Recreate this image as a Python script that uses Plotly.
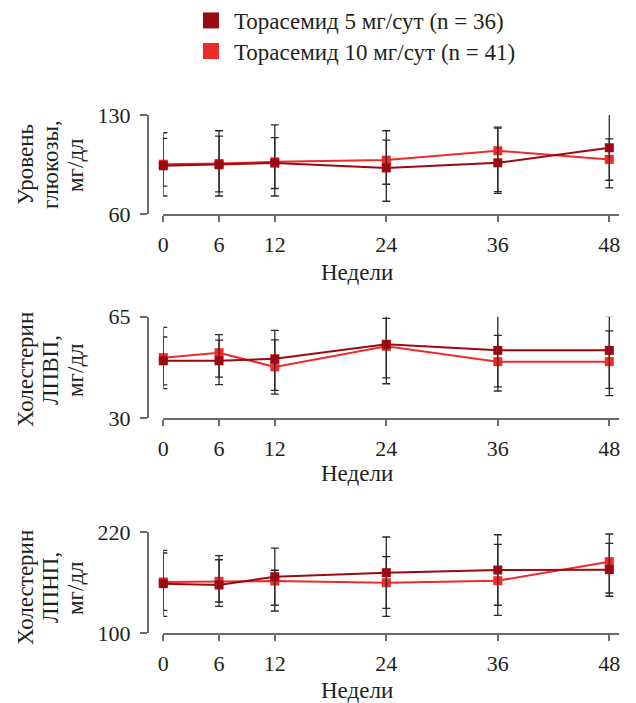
import plotly.graph_objects as go

W, H = 636, 703

weeks = [0, 6, 12, 24, 36, 48]
series_names = ["Торасемид 5 мг/сут (n = 36)", "Торасемид 10 мг/сут (n = 41)"]
series_colors = ["#9b0a12", "#ee2a2a"]

# Glucose, mg/dl
glu_5 = [94.2, 94.9, 96.1, 92.7, 96.3, 106.9]
glu_5_hi = [117.5, 118.9, 123.1, 112.3, 120.8, 133.3]
glu_5_lo = [72.9, 72.9, 72.9, 69.2, 74.8, 84.0]
glu_10 = [95.3, 95.8, 97.0, 98.2, 104.8, 98.7]
glu_10_hi = [113.5, 115.1, 114.0, 118.9, 121.5, 113.2]
glu_10_lo = [79.8, 75.8, 78.2, 81.2, 76.0, 78.6]

# HDL cholesterol, mg/dl
hdl_5 = [49.8, 49.8, 50.5, 55.5, 53.4, 53.4]
hdl_5_hi = [61.3, 56.9, 60.3, 66.4, 65.8, 65.1]
hdl_5_lo = [40.2, 41.6, 39.6, 43.9, 40.8, 40.3]
hdl_10 = [50.9, 52.6, 47.7, 54.8, 49.5, 49.5]
hdl_10_hi = [58.0, 58.8, 57.0, 64.4, 58.6, 60.1]
hdl_10_lo = [41.5, 44.2, 38.3, 41.9, 39.4, 37.8]

# LDL cholesterol, mg/dl
ldl_5 = [159.0, 157.4, 167.2, 172.0, 175.2, 175.6]
ldl_5_hi = [198.6, 187.4, 201.3, 214.4, 217.1, 206.9]
ldl_5_lo = [120.2, 132.1, 133.3, 129.7, 133.3, 144.0]
ldl_10 = [161.0, 161.8, 162.1, 160.1, 162.5, 185.1]
ldl_10_hi = [195.4, 192.2, 174.9, 191.0, 205.7, 218.0]
ldl_10_lo = [127.3, 137.2, 126.5, 120.2, 121.4, 147.9]

y_titles = [["Уровень", "глюкозы,", "мг/дл"],
            ["Холестерин", "ЛПВП,", "мг/дл"],
            ["Холестерин", "ЛПНП,", "мг/дл"]]
y_ranges = [[60, 130], [30, 65], [100, 220]]
x_title = "Недели"

panels = [
    ((glu_5, glu_5_hi, glu_5_lo), (glu_10, glu_10_hi, glu_10_lo)),
    ((hdl_5, hdl_5_hi, hdl_5_lo), (hdl_10, hdl_10_hi, hdl_10_lo)),
    ((ldl_5, ldl_5_hi, ldl_5_lo), (ldl_10, ldl_10_hi, ldl_10_lo)),
]

# layout geometry (pixels)
panel_px = [(115, 214.3), (316.7, 418.3), (532.3, 633.3)]
xtitle_px = [272, 473, 690]
ytitle_cy = [165, 370, 588]
ytitle_x = [25, 50, 75]
legend_cy = [20.5, 51.0]
x_left, x_right, x48 = 163.3, 619.0, 609.3
yaxis_x = 147.7

FONT = "Liberation Serif"
AX = "#6a6a6a"
TXT = "#231f20"

fig = go.Figure()

for i, panel in enumerate(panels):
    xa = "x" if i == 0 else f"x{i+1}"
    ya = "y" if i == 0 else f"y{i+1}"
    for k in [1, 0]:
        vals, hi, lo = panel[k]
        fig.add_trace(go.Scatter(
            x=weeks, y=vals, mode="lines+markers",
            line=dict(color=series_colors[k], width=2),
            marker=dict(symbol="square", size=9, color=series_colors[k]),
            error_y=dict(type="data", symmetric=False,
                         array=[h - v for h, v in zip(hi, vals)],
                         arrayminus=[v - l for v, l in zip(vals, lo)],
                         color="#2a2a2a", thickness=1.3, width=4),
            cliponaxis=False, showlegend=False, xaxis=xa, yaxis=ya,
        ))

legend_ids = ["legend", "legend2"]
for k in range(2):
    fig.add_trace(go.Scatter(
        x=[None], y=[None], mode="markers", name=series_names[k],
        marker=dict(symbol="square", size=16, color=series_colors[k]),
        showlegend=True, legend=legend_ids[k],
    ))

layout = dict(
    width=W, height=H,
    margin=dict(l=0, r=0, t=0, b=0, pad=0, autoexpand=False),
    paper_bgcolor="white", plot_bgcolor="white",
    font=dict(family=FONT, size=22, color=TXT),
    annotations=[],
)
for k in range(2):
    layout[legend_ids[k]] = dict(
        x=188 / W, y=1 - legend_cy[k] / H, xanchor="left", yanchor="middle",
        font=dict(family=FONT, size=23, color=TXT),
        bgcolor="rgba(0,0,0,0)", itemwidth=36,
    )

xdom = [x_left / W, x_right / W]
xrange_ = [0, 48 * (x_right - x_left) / (x48 - x_left)]

for i in range(3):
    sx = "" if i == 0 else str(i + 1)
    top, bot = panel_px[i]
    layout["xaxis" + sx] = dict(
        domain=xdom, range=xrange_, anchor="y" + sx, automargin=False,
        showline=True, linecolor=AX, linewidth=1.5,
        ticks="outside", ticklen=6, tickwidth=1.5, tickcolor=AX,
        ticklabelstandoff=4,
        tickvals=weeks, ticktext=[str(w) for w in weeks],
        tickfont=dict(family=FONT, size=22, color=TXT),
        showgrid=False, zeroline=False, fixedrange=True,
    )
    layout["yaxis" + sx] = dict(
        domain=[1 - bot / H, 1 - top / H], range=y_ranges[i],
        anchor="free", position=yaxis_x / W, automargin=False,
        showline=True, linecolor=AX, linewidth=1.5,
        ticks="outside", ticklen=7, tickwidth=1.5, tickcolor=AX,
        ticklabelstandoff=5,
        tickvals=y_ranges[i], ticktext=[str(v) for v in y_ranges[i]],
        tickfont=dict(family=FONT, size=22, color=TXT),
        showgrid=False, zeroline=False, fixedrange=True,
    )
    layout["annotations"].append(dict(
        text=x_title, xref="paper", yref="paper",
        x=357 / W, y=1 - xtitle_px[i] / H, xanchor="center", yanchor="middle",
        showarrow=False, font=dict(family=FONT, size=23, color=TXT),
    ))
    for j, line in enumerate(y_titles[i]):
        layout["annotations"].append(dict(
            text=line, xref="paper", yref="paper",
            x=ytitle_x[j] / W, y=1 - ytitle_cy[i] / H,
            xanchor="center", yanchor="middle",
            textangle=-90, showarrow=False,
            font=dict(family=FONT, size=23, color=TXT),
        ))

fig.update_layout(**layout)
fig.write_html("out.html")
